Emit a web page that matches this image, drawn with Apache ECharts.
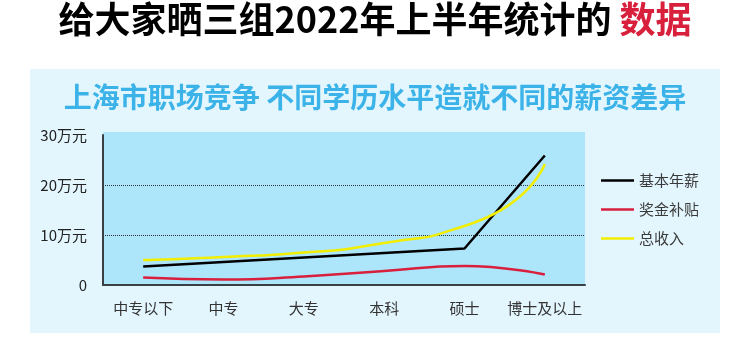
<!DOCTYPE html>
<html>
<head>
<meta charset="utf-8">
<script src="https://cdn.jsdelivr.net/npm/echarts@6/dist/echarts.min.js"></script>
<style>
  html, body { margin: 0; padding: 0; background: #fff; }
  #chart { width: 750px; height: 354px; }
</style>
</head>
<body>
<div id="chart"></div>
<script>
// 数据
var categories = ['中专以下', '中专', '大专', '本科', '硕士', '博士及以上']
var baseSalary = [3.7, 4.6, 5.5, 6.4, 7.3, 25.9]   // 基本年薪
var bonus = [1.5, 1.1, 1.7, 2.8, 3.8, 2.1]          // 奖金补贴
var totalIncome = [5.0, 5.6, 6.5, 8.4, 11.8, 24.2]  // 总收入
var yTicks = [0, 10, 20, 30]

var myChart = echarts.init(document.getElementById('chart'))
var font = '"Noto Sans CJK SC", "Noto Sans", sans-serif'

var option = {
  backgroundColor: '#fff',
  animation: false,
  textStyle: { fontFamily: font },
  title: [
    {
      text: '{b|给大家晒三组2022年上半年统计的 }{r|数据}',
      left: 'center',
      top: -4,
      textStyle: {
        rich: {
          b: { fontSize: 36, fontWeight: 'bold', color: '#000', fontFamily: font },
          r: { fontSize: 36, fontWeight: 'bold', color: '#d8203c', fontFamily: font }
        }
      }
    },
    {
      text: '上海市职场竞争 不同学历水平造就不同的薪资差异',
      left: 'center',
      top: 78,
      textStyle: { fontSize: 28, fontWeight: 'bold', color: '#3cb3e8', fontFamily: font }
    }
  ],
  graphic: [
    { type: 'rect', z: -10, shape: { x: 30, y: 69, width: 690, height: 264 }, style: { fill: '#e3f6fe' } },
    { type: 'rect', z: -9, shape: { x: 103, y: 132, width: 482, height: 153 }, style: { fill: '#ade5fb' } }
  ],
  legend: {
    orient: 'vertical',
    left: 596,
    top: 168,
    icon: 'rect',
    itemWidth: 33,
    itemHeight: 2.5,
    itemGap: 14,
    textStyle: { fontSize: 15, color: '#3a3a3a', fontFamily: font },
    data: ['基本年薪', '奖金补贴', '总收入']
  },
  grid: { left: 103, right: 165, top: 135, bottom: 69 },
  xAxis: {
    type: 'category',
    data: categories,
    boundaryGap: true,
    axisLine: { lineStyle: { color: '#3a3f44', width: 2 } },
    axisTick: { inside: true, length: 11, lineStyle: { color: '#3a3f44', width: 1.5 } },
    axisLabel: { fontSize: 15, color: '#333', margin: 16, interval: 0 }
  },
  yAxis: {
    type: 'value',
    min: yTicks[0],
    max: yTicks[yTicks.length - 1],
    interval: 10,
    axisLine: { show: true, lineStyle: { color: '#3a3f44', width: 2 } },
    axisTick: { show: false },
    axisLabel: {
      fontSize: 15, color: '#222', margin: 16,
      formatter: function (v) { return v === 0 ? '0' : v + '万元' }
    },
    splitLine: {
      show: true,
      lineStyle: { type: 'dotted', color: ['transparent', '#333', '#333', 'transparent'], width: 1 }
    }
  },
  series: [
    {
      name: '基本年薪', type: 'line', data: baseSalary, symbol: 'none',
      itemStyle: { color: '#000' }, lineStyle: { color: '#000', width: 2.5 }
    },
    {
      name: '奖金补贴', type: 'line', data: bonus, symbol: 'none', smooth: true,
      itemStyle: { color: '#d8203c' }, lineStyle: { color: '#d8203c', width: 2.5 }
    },
    {
      name: '总收入', type: 'line', data: totalIncome, symbol: 'none', smooth: 0.75,
      itemStyle: { color: '#f2ee00' }, lineStyle: { color: '#f2ee00', width: 2.5 }
    }
  ]
}

myChart.setOption(option)
window.onresize = function () {
  myChart.resize()
}
</script>
</body>
</html>
